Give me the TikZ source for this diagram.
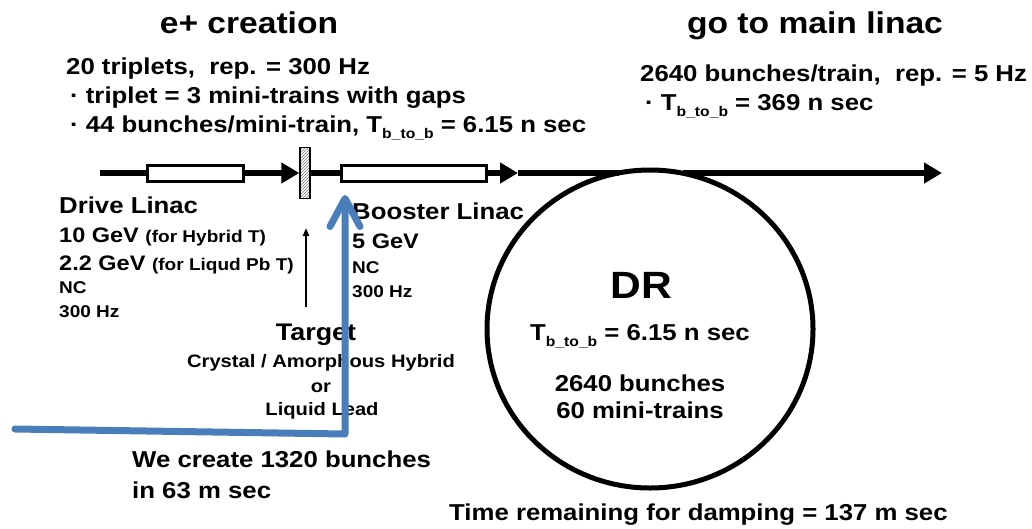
\documentclass[tikz,border=0pt]{standalone}
\usepackage{fontspec}
\setmainfont{Liberation Sans}[FakeStretch=1.12]
\usetikzlibrary{arrows.meta,shapes.geometric,patterns}
\definecolor{beamblue}{HTML}{4A7EBB}
\definecolor{plate}{HTML}{7A7A7A}
\newcommand{\fs}[1]{\fontsize{#1}{#1}\selectfont}
\newcommand{\tbb}{T\raisebox{-.5ex}{\fs{14}b\_to\_b}}

\begin{document}
\begin{tikzpicture}[x=1pt,y=-1pt,>={Triangle[length=18pt,width=20pt]},
  lbl/.style={inner sep=0pt,anchor=base west},
  ctr/.style={inner sep=0pt,anchor=base},
  head/.style={font=\bfseries\fs{30}},
  body/.style={font=\bfseries\fs{23}},
  small/.style={font=\bfseries\fs{17}},
  beam/.style={line width=6pt},
  linac/.style={draw,line width=3pt,fill=white,minimum height=16pt,inner sep=0pt}]
  \useasboundingbox (0,0) rectangle (1032,528);

  % headings
  \node[ctr,head] (creation) at (249,33) {e+ creation};
  \node[ctr,head] (mainlinac) at (815,33) {go to main linac};

  % positron pulse structure
  \node[lbl,body] (triplets) at (66,74) {20 triplets,\ \ rep. = 300 Hz};
  \node[lbl,body] (tripdef) at (70,103) {· triplet = 3 mini-trains with gaps};
  \node[lbl,body] (minitrain) at (70,132) {· 44 bunches/mini-train, \tbb{} = 6.15 n sec};
  \node[lbl,body] (ringtrain) at (640,81) {2640 bunches/train,\ \ rep. = 5 Hz};
  \node[lbl,body] (ringtbb) at (645,110) {· \tbb{} = 369 n sec};

  % beam line
  \node[linac,minimum width=96pt] (drive) at (195,173) {};
  \node[draw,line width=1.5pt,preaction={fill=white},pattern=north east lines,pattern color=plate,
        minimum width=10pt,minimum height=51pt,inner sep=0pt] (target) at (305,173) {};
  \node[linac,minimum width=145pt] (booster) at (413.5,173) {};
  \node[draw,ellipse,line width=5pt,minimum width=326pt,minimum height=318pt,inner sep=0pt] (ring) at (650,329) {};
  \coordinate (gun) at (100,173);
  \coordinate (bend) at (518,173);
  \coordinate (inject) at (619,173);
  \coordinate (extract) at (683,173);
  \coordinate (linacend) at (942,173);
  \draw[beam] (gun) -- (drive.west);
  \draw[beam,->] (drive.east) -- (target.west);
  \draw[beam] (target.east) -- (booster.west);
  \draw[beam,->] (booster.east) -- (bend);
  \draw[beam] (bend) -- (inject);
  \draw[beam,->] (extract) -- (linacend);

  % drive linac
  \node[lbl,body] (drivename) at (59,213) {Drive Linac};
  \node[lbl,font=\bfseries\fs{21}] (driveE1) at (59,242) {10 GeV {\fs{17}(for Hybrid T)}};
  \node[lbl,font=\bfseries\fs{21}] (driveE2) at (59,270) {2.2 GeV {\fs{17}(for Liqud Pb T)}};
  \node[lbl,small] (drivenc) at (59,293) {NC};
  \node[lbl,small] (driverep) at (59,317) {300 Hz};

  % booster linac
  \node[lbl,body] (boostname) at (352,219) {Booster Linac};
  \node[lbl,font=\bfseries\fs{21}] (boostE) at (352,248) {5 GeV};
  \node[lbl,small] (boostnc) at (352,273) {NC};
  \node[lbl,small] (boostrep) at (352,297) {300 Hz};

  % target
  \coordinate (tgtfoot) at (306,307);
  \coordinate (tgthead) at (306,228);
  \draw[line width=2pt,-{Triangle[length=8pt,width=6pt]}] (tgtfoot) -- (tgthead);
  \node[ctr,font=\bfseries\fs{24}] (tgtname) at (316,340) {Target};
  \node[ctr,font=\bfseries\fs{18}] (tgtmat1) at (321,367) {Crystal / Amorphous Hybrid};
  \node[ctr,font=\bfseries\fs{18}] (tgtor) at (321,392) {or};
  \node[ctr,font=\bfseries\fs{18}] (tgtmat2) at (322,415) {Liquid Lead};

  % damping ring
  \node[ctr,font=\bfseries\fs{38}] (drname) at (641,298) {DR};
  \node[ctr,body] (drtbb) at (640,340) {\tbb{} = 6.15 n sec};
  \node[ctr,body] (drbunch) at (640,391) {2640 bunches};
  \node[ctr,body] (drtrain) at (640,418) {60 mini-trains};
  \node[lbl,body] (damping) at (449,520) {Time remaining for damping = 137 m sec};

  % bunch creation
  \node[lbl,body] (created1) at (132,467) {We create 1320 bunches};
  \node[lbl,body] (created2) at (132,498) {in 63 m sec};
  \coordinate (bluestart) at (15,429);
  \coordinate (bluecorner) at (345,434);
  \coordinate (bluetip) at (345,195);
  \draw[beamblue,line width=7pt,line cap=round,line join=round,
        -{Straight Barb[length=28pt,width=30pt,round]}] (bluestart) -- (bluecorner) -- (bluetip);
\end{tikzpicture}
\end{document}
